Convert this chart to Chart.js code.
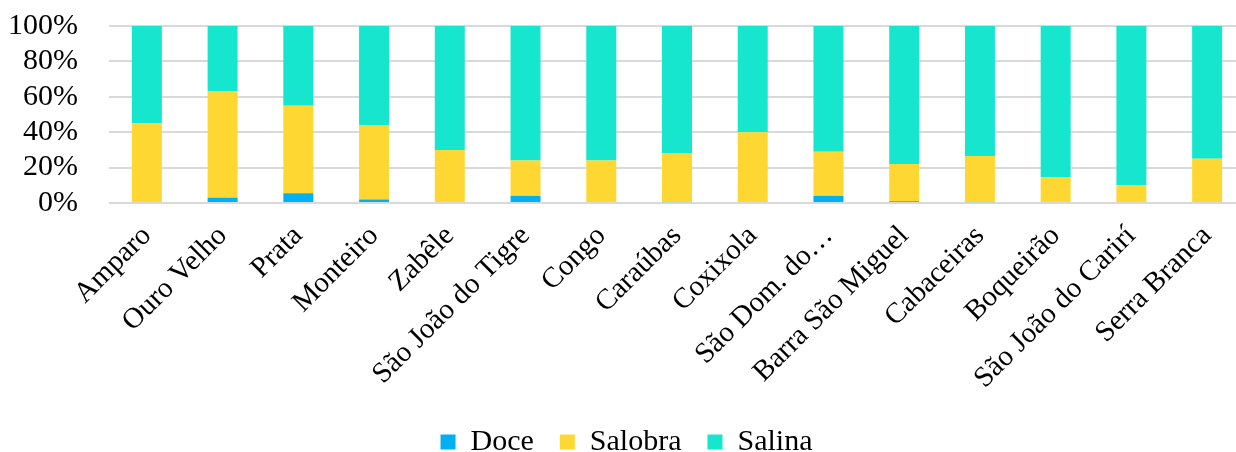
<!DOCTYPE html>
<html>
<head>
<meta charset="utf-8">
<script src="https://cdn.jsdelivr.net/npm/chart.js@4"></script>
<style>
  html, body { margin: 0; padding: 0; background: #fff; overflow: hidden; }
  #wrap { width: 1246px; height: 467px; }
</style>
</head>
<body>
<div id="wrap"><canvas id="chart"></canvas></div>
<script>
// municipalities (x axis)
const categories = ["Amparo", "Ouro Velho", "Prata", "Monteiro", "Zabêle", "São João do Tigre",
  "Congo", "Caraúbas", "Coxixola", "São Dom. do…", "Barra São Miguel", "Cabaceiras",
  "Boqueirão", "São João do Carirí", "Serra Branca"];
// share of wells per water type, percent
const doce    = [0, 3, 5.5, 2, 0, 4, 0, 0.5, 0, 4, 1, 0.5, 0, 0, 0];
const salobra = [45, 60, 49.5, 42, 30, 20, 24, 27.5, 40, 25, 21, 26, 14.5, 10, 25];
const salina  = categories.map((c, i) => 100 - doce[i] - salobra[i]);
const yTicks = [0, 20, 40, 60, 80, 100];

const serif = "'Liberation Serif', 'Times New Roman', serif";

const ctx = document.getElementById("chart").getContext("2d");
new Chart(ctx, {
  type: "bar",
  data: {
    labels: categories,
    datasets: [
      { label: "Doce", data: doce, backgroundColor: "#00B0F0" },
      { label: "Salobra", data: salobra, backgroundColor: "#FFD732" },
      { label: "Salina", data: salina, backgroundColor: "#17E6CF" },
    ],
  },
  options: {
    responsive: true,
    maintainAspectRatio: false,
    animation: false,
    layout: { padding: { top: 26, right: 1, left: 8, bottom: 0 } },
    datasets: { bar: { categoryPercentage: 1, barPercentage: 0.396 } },
    plugins: {
      legend: {
        position: "bottom",
        labels: {
          color: "#000",
          font: { family: serif, size: 30 },
          boxWidth: 15,
          boxHeight: 15,
          padding: 26,
        },
      },
      tooltip: { enabled: false },
    },
    scales: {
      x: {
        stacked: true,
        grid: { display: false },
        border: { display: false },
        afterFit: (scale) => {
          scale.height = 198;
          scale.paddingLeft = 0;
          scale.paddingRight = 0;
        },
        ticks: {
          color: "#000",
          font: { family: serif, size: 29 },
          maxRotation: 45,
          minRotation: 45,
          autoSkip: false,
          padding: 8,
        },
      },
      y: {
        stacked: true,
        min: 0,
        max: 100,
        afterBuildTicks: (axis) => { axis.ticks = yTicks.map((v) => ({ value: v })); },
        afterFit: (scale) => {
          scale.width = 101;
          scale.paddingTop = 0;
          scale.paddingBottom = 0;
        },
        grid: { color: "#d9d9d9", lineWidth: 2, drawTicks: false },
        border: { display: false },
        ticks: {
          color: "#000",
          font: { family: serif, size: 30 },
          padding: 31,
          autoSkip: false,
          callback: (v) => v + "%",
        },
      },
    },
  },
});
</script>
</body>
</html>
